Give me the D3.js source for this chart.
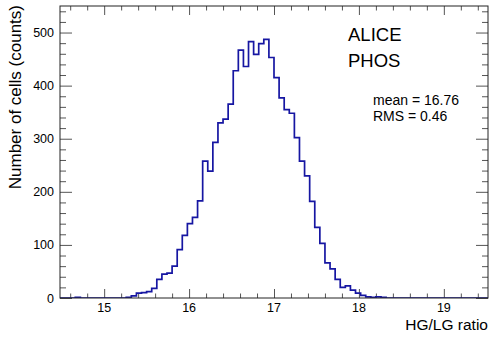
<!DOCTYPE html>
<html>
<head>
<meta charset="utf-8">
<script src="https://cdn.jsdelivr.net/npm/d3@7"></script>
<style>
	body { margin: 0; background: #fff; }
	svg { display: block; }
	text { font-family: "Liberation Sans", Arial, sans-serif; fill: #000; }
</style>
</head>
<body>
<svg width="498" height="339"></svg>
<script>
"use strict";

// histogram: 0.06 wide bins, first shown bin starts at 14.48
const binStart = 14.48
const binWidth = 0.06
const counts = [
	0, 0, 0, 1, 0, 0, 0, 0, 0, 0,
	0, 0, 0, 1, 4, 9, 10, 12, 18, 35,
	45, 47, 60, 91, 118, 140, 152, 183, 258, 239,
	293, 330, 337, 365, 428, 467, 436, 483, 459, 479,
	487, 453, 415, 377, 355, 348, 302, 258, 230, 182,
	133, 103, 66, 55, 35, 20, 23, 15, 9, 5,
	2, 1, 2, 1, 0, 0, 0, 0, 0, 0,
	0, 0, 0, 0, 0, 0, 0, 0, 0, 0,
	0, 0, 0, 0
]
const xDomain = [14.48, 19.52]
const yDomain = [0, 550]
const xTicks = [15, 16, 17, 18, 19]
const yTicks = [0, 100, 200, 300, 400, 500]
const labels = ['ALICE', 'PHOS']
const stats = ['mean = 16.76', 'RMS = 0.46']

const svg = d3.select('svg')
const L = 60, R = 488, T = 6, B = 298

const x = d3.scaleLinear().domain(xDomain).range([L, R])
const y = d3.scaleLinear().domain(yDomain).range([B, T])

const xMinor = d3.range(14.6, 19.51, 0.2).filter(v => !xTicks.some(t => Math.abs(t - v) < 1e-6))
const yMinor = d3.range(0, 551, 20).filter(v => v % 100 != 0)

const tickCol = '#555'

// ticks pointing inward on all four sides
function ticks(axis, pos, vals, size) {
	const g = svg.append('g').attr('transform', pos)
		.call(axis.tickValues(vals).tickSize(size).tickFormat(''))
	g.select('.domain').remove()
	return g
}
ticks(d3.axisTop(x), `translate(0,${B})`, xTicks, 9)
ticks(d3.axisTop(x), `translate(0,${B})`, xMinor, 4.5)
ticks(d3.axisBottom(x), `translate(0,${T})`, xTicks, 9)
ticks(d3.axisBottom(x), `translate(0,${T})`, xMinor, 4.5)
ticks(d3.axisRight(y), `translate(${L},0)`, yTicks, 12)
ticks(d3.axisRight(y), `translate(${L},0)`, yMinor, 6)
ticks(d3.axisLeft(y), `translate(${R},0)`, yTicks, 12)
ticks(d3.axisLeft(y), `translate(${R},0)`, yMinor, 6)

svg.selectAll('.tick line').attr('stroke', tickCol).attr('stroke-width', 1)

// tick labels
svg.append('g').selectAll('text').data(xTicks).enter().append('text')
	.attr('x', d => x(d)).attr('y', 311.5)
	.attr('text-anchor', 'middle').attr('font-size', 12.5)
	.text(d => d)
svg.append('g').selectAll('text').data(yTicks).enter().append('text')
	.attr('x', 54).attr('y', d => y(d) + 4.5)
	.attr('text-anchor', 'end').attr('font-size', 12.5)
	.text(d => d)

// histogram outline
svg.append('clipPath').attr('id', 'frameclip')
	.append('rect').attr('x', L).attr('y', T).attr('width', R - L).attr('height', B - T)
let pts = []
counts.forEach((c, i) => {
	const x0 = binStart + i * binWidth, x1 = x0 + binWidth
	pts.push([x(x0), y(c)], [x(x1), y(c)])
})
svg.append('path')
	.attr('clip-path', 'url(#frameclip)')
	.attr('d', d3.line()(pts))
	.attr('fill', 'none')
	.attr('stroke', '#1616a2')
	.attr('stroke-width', 1.7)

// frame
svg.append('rect')
	.attr('x', L).attr('y', T).attr('width', R - L).attr('height', B - T)
	.attr('fill', 'none').attr('stroke', '#222').attr('stroke-width', 1)

// axis titles
svg.append('text')
	.attr('x', R).attr('y', 329.5)
	.attr('text-anchor', 'end').attr('font-size', 15.5)
	.text('HG/LG ratio')
svg.append('text')
	.attr('transform', `translate(21,${T - 1}) rotate(-90)`)
	.attr('text-anchor', 'end').attr('font-size', 17)
	.text('Number of cells (counts)')

// labels
svg.append('g').selectAll('text').data(labels).enter().append('text')
	.attr('x', 348).attr('y', (d, i) => 41 + i * 26)
	.attr('font-size', 18.5)
	.text(d => d)
svg.append('g').selectAll('text').data(stats).enter().append('text')
	.attr('x', 373).attr('y', (d, i) => 104.5 + i * 16)
	.attr('font-size', 14)
	.text(d => d)
</script>
</body>
</html>
